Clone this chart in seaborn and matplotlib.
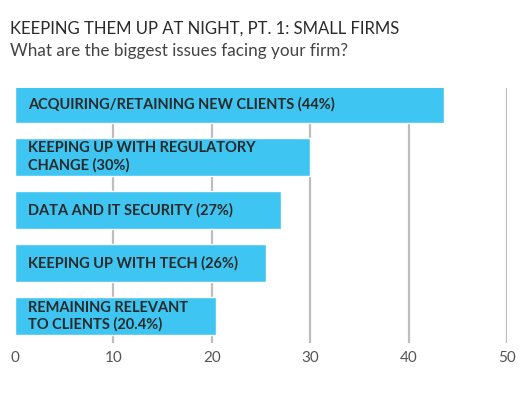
import matplotlib
matplotlib.use('Agg')
import matplotlib.pyplot as plt
import pandas as pd
import seaborn as sb

issues = ['ACQUIRING/RETAINING NEW CLIENTS (44%)',
          'KEEPING UP WITH REGULATORY\nCHANGE (30%)',
          'DATA AND IT SECURITY (27%)',
          'KEEPING UP WITH TECH (26%)',
          'REMAINING RELEVANT\nTO CLIENTS (20.4%)']
shares = [43.6, 30.0, 27.0, 25.5, 20.4]
ticks = [0, 10, 20, 30, 40, 50]

df = pd.DataFrame({'issue': issues, 'share': shares})

sb.set_style('white')
plt.rcParams['font.family'] = ['Lato', 'DejaVu Sans']

fig = plt.figure(figsize=(5.31, 3.95), dpi=100)
ax = fig.add_axes([0.028, 0.132, 0.927, 0.645])

for t in ticks[1:]:
    ax.axvline(t, color='#bdbdbd', lw=1.6, zorder=0)

sb.barplot(data=df, x='share', y='issue', orient='h', color='#3ec5f2',
           saturation=1, width=0.72, ax=ax, zorder=2)

for i, row in df.iterrows():
    ax.text(1.3, i, row['issue'], va='center', ha='left', fontsize=10.5,
            fontweight='bold', color='#2a2a2a', linespacing=1.25, zorder=3)

ax.set_xlim(0, 50)
ax.set_ylim(4.5, -0.3)
ax.set_xticks(ticks)
ax.set_yticks([])
ax.set_xlabel('')
ax.set_ylabel('')
ax.tick_params(axis='x', length=0, labelsize=11, labelcolor='#555555', pad=6)
for s in ax.spines.values():
    s.set_visible(False)

fig.text(0.019, 0.928, 'KEEPING THEM UP AT NIGHT, PT. 1: SMALL FIRMS',
         fontsize=12, color='#2a2a2a', va='center', ha='left')
fig.text(0.019, 0.87, 'What are the biggest issues facing your firm?',
         fontsize=12.3, color='#444444', va='center', ha='left')

plt.savefig('out.png', dpi=100)
